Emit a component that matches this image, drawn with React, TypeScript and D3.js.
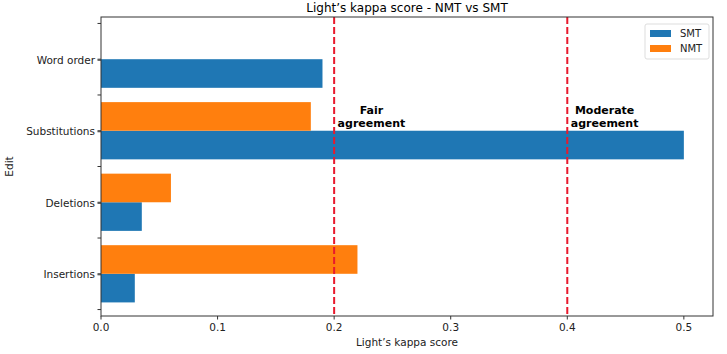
import React from "react";
import * as d3 from "d3";

// kappa scores per edit type
const categories = ["Insertions", "Deletions", "Substitutions", "Word order"];
const smtScores = [0.029, 0.035, 0.5, 0.19];
const nmtScores = [0.22, 0.06, 0.18, 0];
const xTicks = [0, 0.1, 0.2, 0.3, 0.4, 0.5];
const thresholds = [0.2, 0.4];
const thresholdLabels = [
  { x: 0.232, lines: ["Fair", "agreement"] },
  { x: 0.432, lines: ["Moderate", "agreement"] },
];

const width = 727;
const height = 354;
const margin = { top: 17, right: 14, bottom: 38, left: 101 };
const FONT = "DejaVu Sans, sans-serif";
const BLUE = "#1f77b4";
const ORANGE = "#ff7f0e";

export default function App() {
  const innerW = width - margin.left - margin.right;
  const innerH = height - margin.top - margin.bottom;

  const x = d3.scaleLinear().domain([0, 0.525]).range([0, innerW]);
  const y = d3.scaleLinear().domain([-0.59, 3.59]).range([innerH, 0]);
  const barH = 0.4;

  const minorTicks = d3.range(-0.5, 3.6, 0.5);

  return (
    <svg
      width={width}
      height={height}
      style={{ position: "absolute", left: 0, top: 0, background: "#fff" }}
      fontFamily={FONT}
    >
      <text x={margin.left + innerW / 2} y={12} textAnchor="middle" fontSize={12}>
        Light’s kappa score - NMT vs SMT
      </text>
      <g transform={`translate(${margin.left},${margin.top})`}>
        {categories.map((c, i) => (
          <g key={c}>
            <rect
              x={x(0)}
              y={y(i)}
              width={x(smtScores[i]) - x(0)}
              height={y(i - barH) - y(i)}
              fill={BLUE}
            />
            {nmtScores[i] > 0 && (
              <rect
                x={x(0)}
                y={y(i + barH)}
                width={x(nmtScores[i]) - x(0)}
                height={y(i) - y(i + barH)}
                fill={ORANGE}
              />
            )}
          </g>
        ))}

        {thresholds.map((t) => (
          <line
            key={t}
            x1={x(t)}
            x2={x(t)}
            y1={0}
            y2={innerH}
            stroke="#e8192c"
            strokeWidth={2}
            strokeDasharray="7,3"
          />
        ))}
        {thresholdLabels.map((a) => (
          <text
            key={a.x}
            x={x(a.x)}
            y={y(2.23)}
            textAnchor="middle"
            fontSize={11}
            fontWeight="bold"
          >
            {a.lines.map((l, k) => (
              <tspan key={k} x={x(a.x)} dy={k === 0 ? 0 : 12.5}>
                {l}
              </tspan>
            ))}
          </text>
        ))}

        {/* axes frame */}
        <rect x={0} y={0} width={innerW} height={innerH} fill="none" stroke="#333" strokeWidth={1} />

        {xTicks.map((t) => (
          <g key={t} transform={`translate(${x(t)},${innerH})`}>
            <line y2={3.5} stroke="#333" />
            <text y={15} textAnchor="middle" fontSize={10.5} fill="#222">
              {t.toFixed(1)}
            </text>
          </g>
        ))}
        {minorTicks.map((t) => (
          <line key={t} x1={-3.5} x2={0} y1={y(t)} y2={y(t)} stroke="#333" />
        ))}
        {categories.map((c, i) => (
          <g key={c} transform={`translate(0,${y(i) + 1})`}>
            <line x1={-3.5} x2={0} stroke="#333" />
            <text x={-6} dy="0.35em" textAnchor="end" fontSize={10.5} fill="#222">
              {c}
            </text>
          </g>
        ))}

        <text x={innerW / 2} y={innerH + 30} textAnchor="middle" fontSize={10.5} fill="#222">
          Light’s kappa score
        </text>
        <text
          transform={`translate(${-88},${innerH / 2}) rotate(-90)`}
          textAnchor="middle"
          fontSize={10.5}
          fill="#222"
        >
          Edit
        </text>

        {/* legend */}
        <g transform={`translate(${innerW - 68},${7})`}>
          <rect width={64} height={35} rx={2} fill="#fff" fillOpacity={0.8} stroke="#ddd" />
          {[
            { label: "SMT", color: BLUE },
            { label: "NMT", color: ORANGE },
          ].map((d, k) => (
            <g key={d.label} transform={`translate(5,${6 + k * 15})`}>
              <rect width={21} height={7} fill={d.color} />
              <text x={30} y={7} fontSize={10} fill="#222">
                {d.label}
              </text>
            </g>
          ))}
        </g>
      </g>
    </svg>
  );
}
